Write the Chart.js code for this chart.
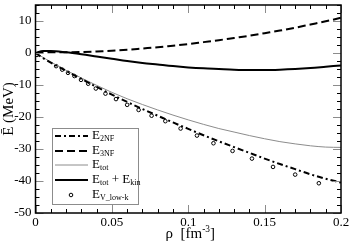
<!DOCTYPE html>
<html>
<head>
<meta charset="utf-8">
<script src="https://cdn.jsdelivr.net/npm/chart.js@4"></script>
<style>
  html, body { margin: 0; padding: 0; background: #fff; }
  canvas { display: block; }
</style>
</head>
<body>
<canvas id="chart" width="349" height="247"></canvas>
<script>
// density grid (fm^-3) shared by the curves
const rho = [0, 0.005, 0.01, 0.02, 0.03, 0.04, 0.05, 0.06, 0.07, 0.08, 0.09, 0.10,
             0.11, 0.12, 0.13, 0.14, 0.15, 0.16, 0.17, 0.18, 0.19, 0.20];
const e2nf = [0, -1.6, -3.0, -5.6, -8.1, -10.6, -13.0, -15.3, -17.5, -19.6, -21.7, -23.7,
              -25.7, -27.6, -29.4, -31.2, -33.0, -34.7, -36.3, -37.9, -39.3, -40.5];
const e3nf = [0, 0.2, 0.2, 0.2, 0.3, 0.5, 0.7, 1.0, 1.4, 1.8, 2.3, 2.8,
              3.4, 4.0, 4.7, 5.4, 6.2, 7.0, 7.9, 8.9, 9.9, 11.0];
const etot = [0, -1.4, -2.8, -5.4, -7.8, -10.1, -12.3, -14.3, -16.1, -17.8, -19.4, -20.9,
              -22.3, -23.6, -24.7, -25.8, -26.8, -27.7, -28.4, -29.0, -29.4, -29.5];
const etotKin = [0, 0.6, 0.6, 0.2, -0.4, -1.1, -1.8, -2.5, -3.1, -3.6, -4.1, -4.5,
                 -4.8, -5.0, -5.2, -5.3, -5.3, -5.2, -5.0, -4.7, -4.3, -3.9];

// V_low-k points
const vlkRho = [0.001, 0.0135, 0.0175, 0.0213, 0.0255, 0.0298, 0.0345, 0.0395, 0.0458, 0.0527,
                0.0600, 0.0675, 0.0760, 0.0850, 0.0950, 0.1057, 0.1165, 0.1290, 0.1417, 0.1555,
                0.1700, 0.1855];
const vlkE = [-0.6, -4.1, -5.2, -6.2, -7.2, -8.4, -9.6, -11.1, -12.7, -14.4,
              -16.2, -17.8, -19.6, -21.3, -23.6, -25.8, -28.2, -30.6, -33.0, -35.6,
              -38.0, -40.7];

const xTicks = [0, 0.05, 0.1, 0.15, 0.2];
const yTicks = [-50, -40, -30, -20, -10, 0, 10];

const SERIF = "'Liberation Serif', 'DejaVu Serif', serif";
const GRAY = '#8c8c8c';

function pts(xs, ys) {
  return xs.map((x, i) => ({ x: x, y: ys[i] }));
}

function lineSet(label, ys, color, width, dash) {
  return {
    label: label,
    data: pts(rho, ys),
    showLine: true,
    borderColor: color,
    borderWidth: width,
    borderDash: dash,
    pointRadius: 0,
    cubicInterpolationMode: 'monotone',
    fill: false
  };
}

// draws text with subscripts / superscripts: parts = [[text, mode], ...]
function richText(ctx, parts, x, y, size) {
  let cx = x;
  parts.forEach(p => {
    const mode = p[1] || 'n';
    let s = size, dy = 0;
    if (mode === 'sub') { s = size * 0.62; dy = size * 0.25; }
    if (mode === 'sup') { s = size * 0.62; dy = -size * 0.42; }
    ctx.font = s + 'px ' + SERIF;
    ctx.fillText(p[0], cx, y + dy);
    cx += ctx.measureText(p[0]).width;
  });
  return cx - x;
}

function richWidth(ctx, parts, size) {
  let w = 0;
  parts.forEach(p => {
    const s = (p[1] && p[1] !== 'n') ? size * 0.62 : size;
    ctx.font = s + 'px ' + SERIF;
    w += ctx.measureText(p[0]).width;
  });
  return w;
}

const framePlugin = {
  id: 'frame',
  afterDraw(chart) {
    const ctx = chart.ctx;
    const a = chart.chartArea;
    const xs = chart.scales.x, ys = chart.scales.y;
    ctx.save();

    // minor ticks (black) and major ticks (gray), pointing inward on all sides
    ctx.lineWidth = 1;
    for (let i = 0; i <= 20; i++) {
      const v = i * 0.01;
      const px = Math.round(xs.getPixelForValue(v)) + 0.5;
      const major = i % 5 === 0;
      const len = major ? 8 : 4;
      ctx.strokeStyle = major ? GRAY : '#000';
      ctx.beginPath();
      ctx.moveTo(px, a.bottom); ctx.lineTo(px, a.bottom - len);
      ctx.moveTo(px, a.top); ctx.lineTo(px, a.top + len);
      ctx.stroke();
    }
    for (let i = 0; i <= 26; i++) {
      const v = -50 + i * 2.5;
      const py = Math.round(ys.getPixelForValue(v)) + 0.5;
      const major = i % 4 === 0;
      const len = major ? 8 : 4;
      ctx.strokeStyle = major ? GRAY : '#000';
      ctx.beginPath();
      ctx.moveTo(a.left, py); ctx.lineTo(a.left + len, py);
      ctx.moveTo(a.right, py); ctx.lineTo(a.right - len, py);
      ctx.stroke();
    }

    // frame
    ctx.strokeStyle = '#000';
    ctx.lineWidth = 1.5;
    ctx.strokeRect(a.left, a.top, a.right - a.left, a.bottom - a.top);

    // legend box
    const bx = 52, by = 128, bw = 86, bh = 76;
    ctx.fillStyle = '#fff';
    ctx.fillRect(bx, by, bw, bh);
    ctx.strokeStyle = GRAY;
    ctx.lineWidth = 1;
    ctx.strokeRect(bx + 0.5, by + 0.5, bw, bh);

    const rows = [
      { y: 136, color: '#000', w: 2, dash: [6, 3, 2, 3], text: [['E'], ['2NF', 'sub']] },
      { y: 151, color: '#000', w: 2, dash: [8, 4], text: [['E'], ['3NF', 'sub']] },
      { y: 165, color: GRAY, w: 1, dash: [], text: [['E'], ['tot', 'sub']] },
      { y: 180, color: '#000', w: 2, dash: [], text: [['E'], ['tot', 'sub'], [' + E'], ['kin', 'sub']] },
      { y: 195, circle: true, text: [['E'], ['V_low-k', 'sub']] }
    ];
    ctx.textBaseline = 'middle';
    ctx.textAlign = 'left';
    rows.forEach(r => {
      if (r.circle) {
        ctx.strokeStyle = '#000';
        ctx.lineWidth = 1;
        ctx.beginPath();
        ctx.arc(71, r.y, 1.8, 0, Math.PI * 2);
        ctx.stroke();
      } else {
        ctx.strokeStyle = r.color;
        ctx.lineWidth = r.w;
        ctx.setLineDash(r.dash);
        ctx.beginPath();
        ctx.moveTo(55, r.y); ctx.lineTo(88, r.y);
        ctx.stroke();
        ctx.setLineDash([]);
      }
      ctx.fillStyle = '#000';
      richText(ctx, r.text, 92, r.y, 13);
    });

    // x axis title
    const xt = [['\u03c1  [fm'], ['-3', 'sup'], [']']];
    const cx = (a.left + a.right) / 2;
    ctx.textBaseline = 'alphabetic';
    const w = richWidth(ctx, xt, 15);
    richText(ctx, xt, cx - w / 2 + 2, 238, 15);

    // y axis title
    ctx.save();
    ctx.translate(9, (a.top + a.bottom) / 2);
    ctx.rotate(-Math.PI / 2);
    ctx.textAlign = 'center';
    ctx.textBaseline = 'middle';
    ctx.font = '15px ' + SERIF;
    ctx.fillText('\u0112 (MeV)', 0, 0);
    ctx.restore();

    ctx.restore();
  }
};

new Chart(document.getElementById('chart'), {
  type: 'scatter',
  data: {
    datasets: [
      lineSet('E_2NF', e2nf, '#000', 2, [6, 3, 2, 3]),
      lineSet('E_3NF', e3nf, '#000', 2, [8, 4]),
      lineSet('E_tot', etot, GRAY, 1, []),
      lineSet('E_tot + E_kin', etotKin, '#000', 2, []),
      {
        label: 'E_V_low-k',
        data: pts(vlkRho, vlkE),
        showLine: false,
        pointStyle: 'circle',
        pointRadius: 1.8,
        pointBorderWidth: 1,
        pointBorderColor: '#000',
        pointBackgroundColor: 'rgba(0,0,0,0)'
      }
    ]
  },
  options: {
    responsive: false,
    animation: false,
    devicePixelRatio: 1,
    layout: { padding: { top: 1, right: 8, left: 0, bottom: 0 } },
    plugins: {
      legend: { display: false },
      tooltip: { enabled: false }
    },
    scales: {
      x: {
        type: 'linear',
        min: 0,
        max: 0.2,
        afterBuildTicks: s => { s.ticks = xTicks.map(v => ({ value: v })); },
        afterFit: s => { s.height = 34; s.paddingLeft = 0; s.paddingRight = 0; },
        grid: { display: false, drawTicks: false },
        border: { display: false },
        ticks: {
          padding: 2,
          color: '#000',
          font: { family: SERIF, size: 13 },
          maxRotation: 0,
          callback: v => String(+v.toFixed(2))
        }
      },
      y: {
        type: 'linear',
        min: -50,
        max: 15,
        afterBuildTicks: s => { s.ticks = yTicks.map(v => ({ value: v })); },
        afterFit: s => { s.width = 35.5; s.paddingTop = 0; s.paddingBottom = 0; },
        grid: { display: false, drawTicks: false },
        border: { display: false },
        ticks: {
          padding: 4,
          color: '#000',
          font: { family: SERIF, size: 13 },
          callback: v => String(v)
        }
      }
    }
  },
  plugins: [framePlugin]
});
</script>
</body>
</html>
